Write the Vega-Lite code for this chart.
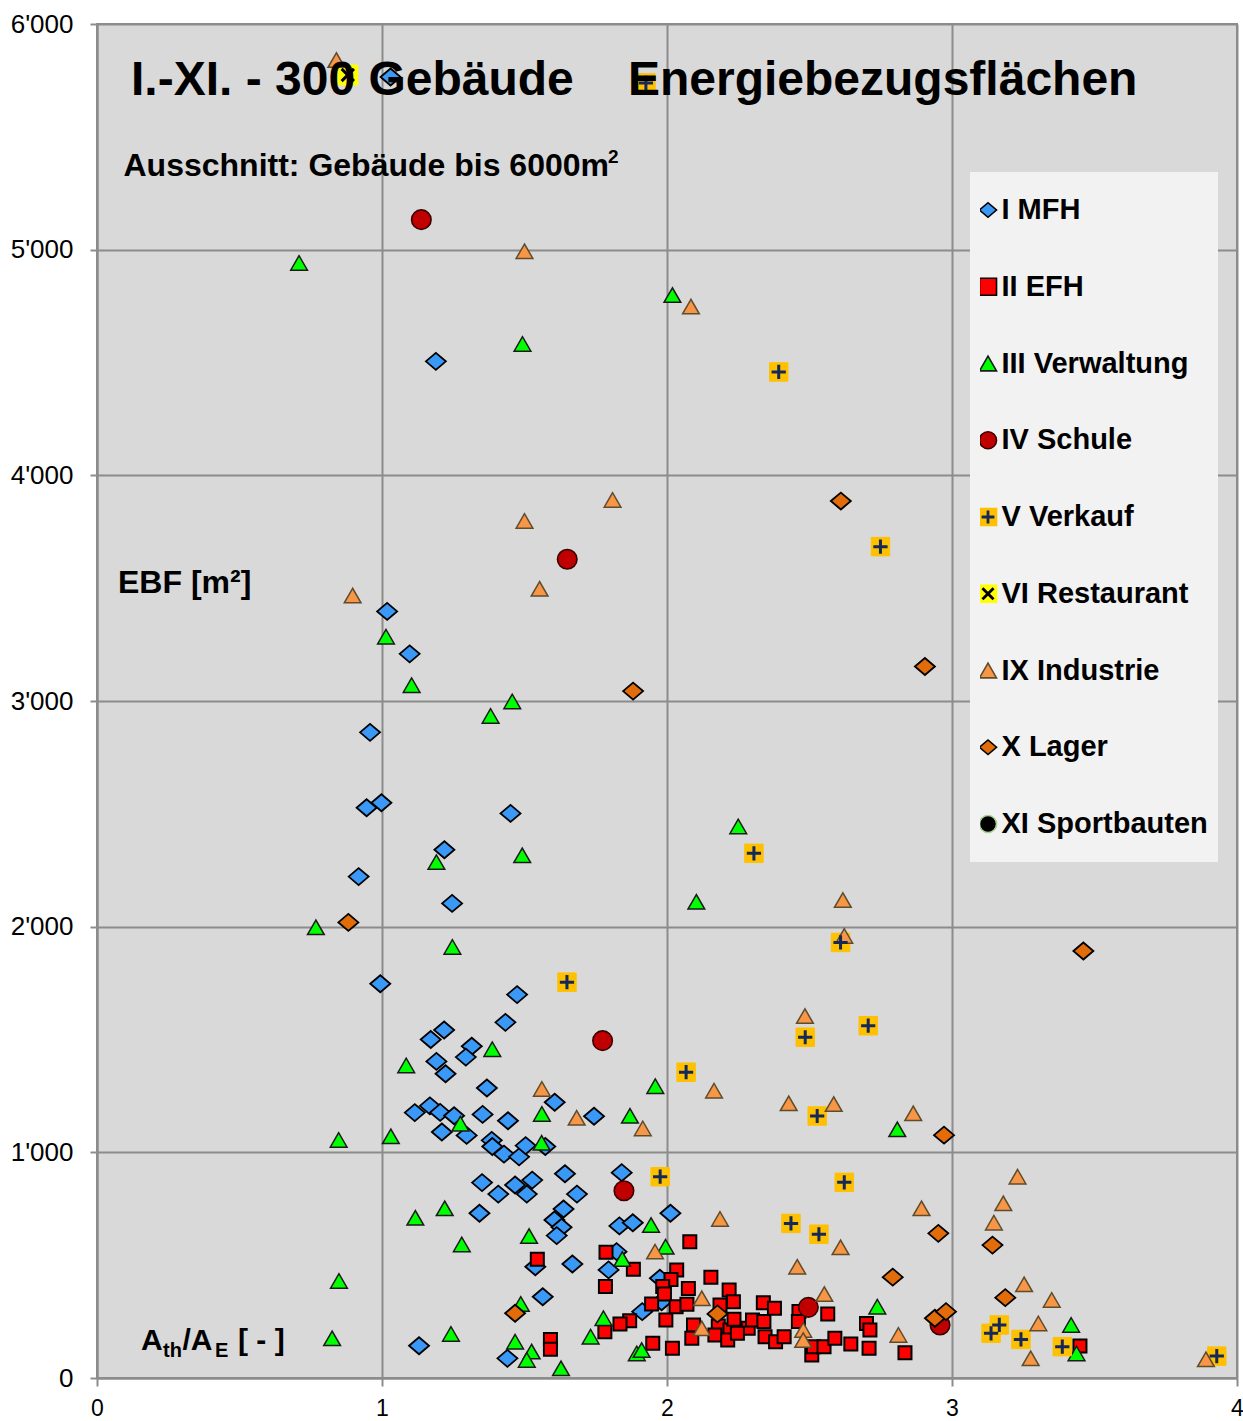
{
  "$schema": "https://vega.github.io/schema/vega-lite/v6.json",
  "width": 1140,
  "height": 1354,
  "autosize": {"type": "none"},
  "padding": {"left": 97, "top": 24, "right": 6, "bottom": 43},
  "background": "#ffffff",
  "config": {
    "view": {"fill": "#d9d9d9", "stroke": "#8c8c8c", "strokeWidth": 2},
    "font": "Liberation Sans",
    "axis": {
      "grid": true, "gridColor": "#8c8c8c", "gridWidth": 2, "gridOpacity": 1,
      "domainColor": "#8c8c8c", "domainWidth": 2,
      "tickColor": "#8c8c8c", "tickWidth": 2,
      "labelFont": "Liberation Sans", "labelFontSize": 26, "labelColor": "#000000",
      "title": null
    }
  },
  "datasets": {
    "pts": [
      {"typ":"I MFH","x":1.03,"y":5765},{"typ":"I MFH","x":1.189,"y":4505},{"typ":"I MFH","x":1.018,"y":3397},{"typ":"I MFH","x":1.097,"y":3209},{"typ":"I MFH","x":0.958,"y":2861},{"typ":"I MFH","x":0.946,"y":2527},{"typ":"I MFH","x":0.998,"y":2549},{"typ":"I MFH","x":1.451,"y":2502},{"typ":"I MFH","x":1.219,"y":2341},{"typ":"I MFH","x":0.918,"y":2222},{"typ":"I MFH","x":1.246,"y":2103},{"typ":"I MFH","x":0.994,"y":1747},{"typ":"I MFH","x":1.474,"y":1699},{"typ":"I MFH","x":1.433,"y":1576},{"typ":"I MFH","x":1.218,"y":1542},{"typ":"I MFH","x":1.171,"y":1500},{"typ":"I MFH","x":1.315,"y":1470},{"typ":"I MFH","x":1.294,"y":1422},{"typ":"I MFH","x":1.191,"y":1403},{"typ":"I MFH","x":1.223,"y":1348},{"typ":"I MFH","x":1.368,"y":1285},{"typ":"I MFH","x":1.606,"y":1222},{"typ":"I MFH","x":1.744,"y":1160},{"typ":"I MFH","x":1.115,"y":1176},{"typ":"I MFH","x":1.168,"y":1206},{"typ":"I MFH","x":1.204,"y":1177},{"typ":"I MFH","x":1.253,"y":1162},{"typ":"I MFH","x":1.21,"y":1090},{"typ":"I MFH","x":1.297,"y":1075},{"typ":"I MFH","x":1.353,"y":1168},{"typ":"I MFH","x":1.442,"y":1140},{"typ":"I MFH","x":1.385,"y":1053},{"typ":"I MFH","x":1.387,"y":1026},{"typ":"I MFH","x":1.428,"y":992},{"typ":"I MFH","x":1.481,"y":980},{"typ":"I MFH","x":1.504,"y":1030},{"typ":"I MFH","x":1.573,"y":1026},{"typ":"I MFH","x":1.642,"y":905},{"typ":"I MFH","x":1.351,"y":866},{"typ":"I MFH","x":1.408,"y":815},{"typ":"I MFH","x":1.467,"y":855},{"typ":"I MFH","x":1.527,"y":877},{"typ":"I MFH","x":1.508,"y":815},{"typ":"I MFH","x":1.684,"y":815},{"typ":"I MFH","x":1.841,"y":910},{"typ":"I MFH","x":1.342,"y":730},{"typ":"I MFH","x":1.637,"y":749},{"typ":"I MFH","x":1.605,"y":700},{"typ":"I MFH","x":1.63,"y":668},{"typ":"I MFH","x":1.613,"y":631},{"typ":"I MFH","x":1.833,"y":674},{"typ":"I MFH","x":1.88,"y":688},{"typ":"I MFH","x":2.012,"y":730},{"typ":"I MFH","x":1.823,"y":560},{"typ":"I MFH","x":1.538,"y":493},{"typ":"I MFH","x":1.668,"y":505},{"typ":"I MFH","x":1.795,"y":479},{"typ":"I MFH","x":1.975,"y":442},{"typ":"I MFH","x":1.564,"y":360},{"typ":"I MFH","x":1.913,"y":294},{"typ":"I MFH","x":1.981,"y":338},{"typ":"I MFH","x":1.13,"y":143},{"typ":"I MFH","x":1.44,"y":87},
      {"typ":"II EFH","x":2.08,"y":604},{"typ":"II EFH","x":1.786,"y":557},{"typ":"II EFH","x":1.545,"y":526},{"typ":"II EFH","x":1.882,"y":482},{"typ":"II EFH","x":1.784,"y":405},{"typ":"II EFH","x":2.034,"y":479},{"typ":"II EFH","x":2.014,"y":437},{"typ":"II EFH","x":2.075,"y":397},{"typ":"II EFH","x":2.154,"y":446},{"typ":"II EFH","x":2.218,"y":390},{"typ":"II EFH","x":1.985,"y":405},{"typ":"II EFH","x":1.991,"y":372},{"typ":"II EFH","x":2.233,"y":338},{"typ":"II EFH","x":2.338,"y":334},{"typ":"II EFH","x":2.377,"y":309},{"typ":"II EFH","x":2.564,"y":284},{"typ":"II EFH","x":2.463,"y":295},{"typ":"II EFH","x":2.461,"y":250},{"typ":"II EFH","x":1.946,"y":328},{"typ":"II EFH","x":1.996,"y":257},{"typ":"II EFH","x":1.869,"y":254},{"typ":"II EFH","x":1.835,"y":239},{"typ":"II EFH","x":1.782,"y":205},{"typ":"II EFH","x":1.591,"y":171},{"typ":"II EFH","x":1.591,"y":127},{"typ":"II EFH","x":1.95,"y":154},{"typ":"II EFH","x":2.019,"y":132},{"typ":"II EFH","x":2.093,"y":235},{"typ":"II EFH","x":2.186,"y":323},{"typ":"II EFH","x":2.18,"y":230},{"typ":"II EFH","x":2.221,"y":213},{"typ":"II EFH","x":2.235,"y":260},{"typ":"II EFH","x":2.087,"y":176},{"typ":"II EFH","x":2.168,"y":191},{"typ":"II EFH","x":2.213,"y":168},{"typ":"II EFH","x":2.285,"y":220},{"typ":"II EFH","x":2.3,"y":257},{"typ":"II EFH","x":2.34,"y":250},{"typ":"II EFH","x":2.344,"y":183},{"typ":"II EFH","x":2.381,"y":161},{"typ":"II EFH","x":2.411,"y":183},{"typ":"II EFH","x":2.508,"y":102},{"typ":"II EFH","x":2.514,"y":139},{"typ":"II EFH","x":2.551,"y":139},{"typ":"II EFH","x":2.589,"y":176},{"typ":"II EFH","x":2.645,"y":151},{"typ":"II EFH","x":2.7,"y":242},{"typ":"II EFH","x":2.712,"y":213},{"typ":"II EFH","x":2.709,"y":132},{"typ":"II EFH","x":2.835,"y":112},{"typ":"II EFH","x":3.449,"y":142},{"typ":"II EFH","x":2.032,"y":316},{"typ":"II EFH","x":2.07,"y":327},{"typ":"II EFH","x":2.247,"y":198},
      {"typ":"III Verwaltung","x":0.709,"y":4941},{"typ":"III Verwaltung","x":2.019,"y":4799},{"typ":"III Verwaltung","x":1.493,"y":4582},{"typ":"III Verwaltung","x":1.014,"y":3285},{"typ":"III Verwaltung","x":1.104,"y":3070},{"typ":"III Verwaltung","x":1.457,"y":2998},{"typ":"III Verwaltung","x":1.381,"y":2934},{"typ":"III Verwaltung","x":1.191,"y":2286},{"typ":"III Verwaltung","x":1.492,"y":2316},{"typ":"III Verwaltung","x":2.25,"y":2444},{"typ":"III Verwaltung","x":2.103,"y":2110},{"typ":"III Verwaltung","x":0.768,"y":1997},{"typ":"III Verwaltung","x":1.247,"y":1910},{"typ":"III Verwaltung","x":1.387,"y":1457},{"typ":"III Verwaltung","x":1.085,"y":1385},{"typ":"III Verwaltung","x":1.959,"y":1293},{"typ":"III Verwaltung","x":1.561,"y":1170},{"typ":"III Verwaltung","x":1.87,"y":1162},{"typ":"III Verwaltung","x":1.275,"y":1127},{"typ":"III Verwaltung","x":0.848,"y":1055},{"typ":"III Verwaltung","x":1.031,"y":1071},{"typ":"III Verwaltung","x":1.56,"y":1042},{"typ":"III Verwaltung","x":2.808,"y":1102},{"typ":"III Verwaltung","x":1.22,"y":752},{"typ":"III Verwaltung","x":1.117,"y":710},{"typ":"III Verwaltung","x":1.944,"y":678},{"typ":"III Verwaltung","x":1.516,"y":629},{"typ":"III Verwaltung","x":1.28,"y":592},{"typ":"III Verwaltung","x":1.995,"y":582},{"typ":"III Verwaltung","x":1.843,"y":527},{"typ":"III Verwaltung","x":0.849,"y":430},{"typ":"III Verwaltung","x":2.738,"y":316},{"typ":"III Verwaltung","x":1.487,"y":328},{"typ":"III Verwaltung","x":1.777,"y":265},{"typ":"III Verwaltung","x":1.732,"y":183},{"typ":"III Verwaltung","x":1.242,"y":195},{"typ":"III Verwaltung","x":1.467,"y":161},{"typ":"III Verwaltung","x":1.525,"y":117},{"typ":"III Verwaltung","x":1.508,"y":80},{"typ":"III Verwaltung","x":1.628,"y":43},{"typ":"III Verwaltung","x":1.894,"y":109},{"typ":"III Verwaltung","x":1.911,"y":124},{"typ":"III Verwaltung","x":3.418,"y":235},{"typ":"III Verwaltung","x":3.437,"y":109},{"typ":"III Verwaltung","x":0.825,"y":176},
      {"typ":"IV Schule","x":1.138,"y":5133},{"typ":"IV Schule","x":1.65,"y":3628},{"typ":"IV Schule","x":1.774,"y":1495},{"typ":"IV Schule","x":1.849,"y":830},{"typ":"IV Schule","x":2.496,"y":313},{"typ":"IV Schule","x":2.958,"y":235},
      {"typ":"V Verkauf","x":1.926,"y":5739},{"typ":"V Verkauf","x":2.392,"y":4458},{"typ":"V Verkauf","x":2.749,"y":3684},{"typ":"V Verkauf","x":2.305,"y":2325},{"typ":"V Verkauf","x":2.609,"y":1930},{"typ":"V Verkauf","x":1.649,"y":1754},{"typ":"V Verkauf","x":2.485,"y":1510},{"typ":"V Verkauf","x":2.706,"y":1561},{"typ":"V Verkauf","x":2.067,"y":1355},{"typ":"V Verkauf","x":2.527,"y":1161},{"typ":"V Verkauf","x":1.976,"y":892},{"typ":"V Verkauf","x":2.622,"y":867},{"typ":"V Verkauf","x":2.435,"y":685},{"typ":"V Verkauf","x":2.533,"y":637},{"typ":"V Verkauf","x":3.137,"y":198},{"typ":"V Verkauf","x":3.166,"y":235},{"typ":"V Verkauf","x":3.242,"y":171},{"typ":"V Verkauf","x":3.387,"y":139},{"typ":"V Verkauf","x":3.929,"y":97},
      {"typ":"VI Restaurant","x":0.88,"y":5774},
      {"typ":"IX Industrie","x":0.84,"y":5840},{"typ":"IX Industrie","x":1.5,"y":4993},{"typ":"IX Industrie","x":2.084,"y":4748},{"typ":"IX Industrie","x":1.809,"y":3891},{"typ":"IX Industrie","x":1.5,"y":3798},{"typ":"IX Industrie","x":1.553,"y":3497},{"typ":"IX Industrie","x":0.897,"y":3467},{"typ":"IX Industrie","x":2.617,"y":2118},{"typ":"IX Industrie","x":2.622,"y":1959},{"typ":"IX Industrie","x":2.484,"y":1604},{"typ":"IX Industrie","x":1.561,"y":1281},{"typ":"IX Industrie","x":1.683,"y":1153},{"typ":"IX Industrie","x":1.915,"y":1106},{"typ":"IX Industrie","x":2.165,"y":1273},{"typ":"IX Industrie","x":2.427,"y":1217},{"typ":"IX Industrie","x":2.585,"y":1214},{"typ":"IX Industrie","x":2.864,"y":1173},{"typ":"IX Industrie","x":3.23,"y":892},{"typ":"IX Industrie","x":2.893,"y":752},{"typ":"IX Industrie","x":2.186,"y":705},{"typ":"IX Industrie","x":3.18,"y":774},{"typ":"IX Industrie","x":3.147,"y":688},{"typ":"IX Industrie","x":2.609,"y":579},{"typ":"IX Industrie","x":1.958,"y":560},{"typ":"IX Industrie","x":2.457,"y":493},{"typ":"IX Industrie","x":3.253,"y":415},{"typ":"IX Industrie","x":2.552,"y":372},{"typ":"IX Industrie","x":3.35,"y":346},{"typ":"IX Industrie","x":2.122,"y":353},{"typ":"IX Industrie","x":3.303,"y":242},{"typ":"IX Industrie","x":2.122,"y":220},{"typ":"IX Industrie","x":2.478,"y":213},{"typ":"IX Industrie","x":2.478,"y":168},{"typ":"IX Industrie","x":2.812,"y":191},{"typ":"IX Industrie","x":3.276,"y":87},{"typ":"IX Industrie","x":3.891,"y":83},
      {"typ":"X Lager","x":2.61,"y":3886},{"typ":"X Lager","x":2.905,"y":3153},{"typ":"X Lager","x":1.881,"y":3044},{"typ":"X Lager","x":0.882,"y":2019},{"typ":"X Lager","x":3.461,"y":1892},{"typ":"X Lager","x":2.972,"y":1076},{"typ":"X Lager","x":2.952,"y":641},{"typ":"X Lager","x":3.142,"y":589},{"typ":"X Lager","x":2.792,"y":447},{"typ":"X Lager","x":3.187,"y":356},{"typ":"X Lager","x":1.467,"y":287},{"typ":"X Lager","x":2.177,"y":284},{"typ":"X Lager","x":2.94,"y":265},{"typ":"X Lager","x":2.979,"y":294}
    ]
  },
  "resolve": {"scale": {"shape": "independent", "stroke": "independent", "fill": "independent"}},
  "layer": [
    {
      "data": {"name": "pts"},
      "encoding": {
        "x": {"field": "x", "type": "quantitative", "scale": {"domain": [0, 4], "nice": false, "zero": true},
              "axis": {"values": [0, 1, 2, 3, 4], "format": "d", "tickSize": 8, "labelPadding": 11, "labelFontSize": 23, "labelFlush": false, "labelBound": false, "labelOverlap": false}},
        "y": {"field": "y", "type": "quantitative", "scale": {"domain": [0, 6000], "nice": false, "zero": true},
              "axis": {"values": [0, 1000, 2000, 3000, 4000, 5000, 6000], "tickSize": 7, "labelPadding": 17, "labelFlush": false, "labelOverlap": false,
                       "labelExpr": "replace(format(datum.value, ','), ',', \"'\")"}},
        "shape": {"field": "typ", "type": "nominal",
          "scale": {"domain": ["I MFH","II EFH","III Verwaltung","IV Schule","V Verkauf","VI Restaurant","IX Industrie","X Lager","XI Sportbauten"],
                    "range": ["M-1,0L0,-0.85L1,0L0,0.85Z","square","triangle-up","circle","square","square","triangle-up","M-1,0L0,-0.85L1,0L0,0.85Z","circle"]},
          "legend": {"title": null, "orient": "none", "legendX": 873, "legendY": 148, "fillColor": "#f2f2f2", "padding": 10, "clipHeight": 56, "rowPadding": 20.75, "columns": 1,
                     "symbolOffset": -6.5, "labelOffset": -1, "symbolSize": 290, "symbolStrokeWidth": 1.6, "symbolOpacity": 1,
                     "labelFont": "Liberation Sans", "labelFontSize": 29, "labelFontWeight": "bold", "labelColor": "#000000", "labelLimit": 400, "labelBaseline": "middle"}},
        "fill": {"field": "typ", "type": "nominal",
          "scale": {"domain": ["I MFH","II EFH","III Verwaltung","IV Schule","V Verkauf","VI Restaurant","IX Industrie","X Lager","XI Sportbauten"],
                    "range": ["#3a98f7","#ff0000","#00ff00","#c00000","#ffc000","#ffff00","#f79646","#e36c0a","#000000"]},
          "legend": {"title": null, "orient": "none", "legendX": 873, "legendY": 148, "fillColor": "#f2f2f2", "padding": 10, "clipHeight": 56, "rowPadding": 20.75, "columns": 1,
                     "symbolOffset": -6.5, "labelOffset": -1, "symbolSize": 290, "symbolStrokeWidth": 1.6, "symbolOpacity": 1,
                     "labelFont": "Liberation Sans", "labelFontSize": 29, "labelFontWeight": "bold", "labelColor": "#000000", "labelLimit": 400, "labelBaseline": "middle"}},
        "stroke": {"field": "typ", "type": "nominal",
          "scale": {"domain": ["I MFH","II EFH","III Verwaltung","IV Schule","V Verkauf","VI Restaurant","IX Industrie","X Lager","XI Sportbauten"],
                    "range": ["#000000","#000000","#1a1a1a","#3a0000","#ffc000","#ffff00","#5e4c2c","#000000","#a9d18e"]},
          "legend": {"title": null, "orient": "none", "legendX": 873, "legendY": 148, "fillColor": "#f2f2f2", "padding": 10, "clipHeight": 56, "rowPadding": 20.75, "columns": 1,
                     "symbolOffset": -6.5, "labelOffset": -1, "symbolSize": 290, "symbolStrokeWidth": 1.6, "symbolOpacity": 1,
                     "labelFont": "Liberation Sans", "labelFontSize": 29, "labelFontWeight": "bold", "labelColor": "#000000", "labelLimit": 400, "labelBaseline": "middle"}}
      },
      "layer": [
        {"transform": [{"filter": {"field": "typ", "equal": "I MFH"}}], "mark": {"type": "point", "filled": true, "size": 400, "strokeWidth": 1.8, "opacity": 1}},
        {"transform": [{"filter": {"field": "typ", "equal": "II EFH"}}], "mark": {"type": "point", "filled": true, "size": 169, "strokeWidth": 2, "opacity": 1}},
        {"transform": [{"filter": {"field": "typ", "equal": "III Verwaltung"}}], "mark": {"type": "point", "filled": true, "size": 280, "strokeWidth": 1.5, "opacity": 1}},
        {"transform": [{"filter": {"field": "typ", "equal": "IV Schule"}}], "mark": {"type": "point", "filled": true, "size": 380, "strokeWidth": 1.6, "opacity": 1}},
        {"transform": [{"filter": {"field": "typ", "equal": "V Verkauf"}}], "mark": {"type": "point", "filled": true, "size": 340, "strokeWidth": 1, "opacity": 1}},
        {"transform": [{"filter": {"field": "typ", "equal": "VI Restaurant"}}], "mark": {"type": "point", "filled": true, "size": 400, "strokeWidth": 1, "opacity": 1}},
        {"transform": [{"filter": {"field": "typ", "equal": "IX Industrie"}}], "mark": {"type": "point", "filled": true, "size": 280, "strokeWidth": 1.5, "opacity": 1}},
        {"transform": [{"filter": {"field": "typ", "equal": "X Lager"}}], "mark": {"type": "point", "filled": true, "size": 400, "strokeWidth": 1.8, "opacity": 1}}
      ]
    },
    {
      "data": {"name": "pts"},
      "transform": [{"filter": {"field": "typ", "oneOf": ["V Verkauf", "VI Restaurant"]}}],
      "mark": {"type": "point", "filled": false, "size": 360, "strokeWidth": 3, "opacity": 1},
      "encoding": {
        "x": {"field": "x", "type": "quantitative"},
        "y": {"field": "y", "type": "quantitative"},
        "shape": {"field": "typ", "type": "nominal",
          "scale": {"domain": ["I MFH","II EFH","III Verwaltung","IV Schule","V Verkauf","VI Restaurant","IX Industrie","X Lager","XI Sportbauten"],
                    "range": ["M0,0","M0,0","M0,0","M0,0","M-0.75,0H0.75M0,-0.75V0.75","M-0.65,-0.65L0.65,0.65M-0.65,0.65L0.65,-0.65","M0,0","M0,0","M0,0"]},
          "legend": {"title": null, "orient": "none", "legendX": 873, "legendY": 148, "padding": 10, "clipHeight": 56, "rowPadding": 20.75, "columns": 1, "zindex": 1,
                     "symbolOffset": -6.5, "labelOffset": -1, "symbolSize": 290, "symbolStrokeWidth": 2.8, "symbolOpacity": 1,
                     "labelFont": "Liberation Sans", "labelFontSize": 29, "labelFontWeight": "bold", "labelColor": "transparent", "labelLimit": 400, "labelBaseline": "middle"}},
        "stroke": {"field": "typ", "type": "nominal",
          "scale": {"domain": ["I MFH","II EFH","III Verwaltung","IV Schule","V Verkauf","VI Restaurant","IX Industrie","X Lager","XI Sportbauten"],
                    "range": ["transparent","transparent","transparent","transparent","#14285a","#000000","transparent","transparent","transparent"]},
          "legend": {"title": null, "orient": "none", "legendX": 873, "legendY": 148, "padding": 10, "clipHeight": 56, "rowPadding": 20.75, "columns": 1, "zindex": 1,
                     "symbolOffset": -6.5, "labelOffset": -1, "symbolSize": 290, "symbolStrokeWidth": 2.8, "symbolOpacity": 1,
                     "labelFont": "Liberation Sans", "labelFontSize": 29, "labelFontWeight": "bold", "labelColor": "transparent", "labelLimit": 400, "labelBaseline": "middle"}}
      }
    },
    {
      "data": {"values": [{}]},
      "mark": {"type": "text", "text": "I.-XI. - 300 Gebäude", "font": "Liberation Sans", "fontWeight": "bold", "fontSize": 48, "align": "left", "baseline": "alphabetic", "color": "#000000"},
      "encoding": {"x": {"datum": 0.1193, "type": "quantitative"}, "y": {"datum": 5685, "type": "quantitative"}}
    },
    {
      "data": {"values": [{}]},
      "mark": {"type": "text", "text": "Energiebezugsflächen", "font": "Liberation Sans", "fontWeight": "bold", "fontSize": 48, "align": "left", "baseline": "alphabetic", "color": "#000000"},
      "encoding": {"x": {"datum": 1.863, "type": "quantitative"}, "y": {"datum": 5685, "type": "quantitative"}}
    },
    {
      "data": {"values": [{}]},
      "mark": {"type": "text", "text": "Ausschnitt: Gebäude bis 6000m", "font": "Liberation Sans", "fontWeight": "bold", "fontSize": 32, "align": "left", "baseline": "alphabetic", "color": "#000000"},
      "encoding": {"x": {"datum": 0.093, "type": "quantitative"}, "y": {"datum": 5326, "type": "quantitative"}}
    },
    {
      "data": {"values": [{}]},
      "mark": {"type": "text", "text": "2", "font": "Liberation Sans", "fontWeight": "bold", "fontSize": 19, "align": "left", "baseline": "alphabetic", "color": "#000000"},
      "encoding": {"x": {"datum": 1.793, "type": "quantitative"}, "y": {"datum": 5384, "type": "quantitative"}}
    },
    {
      "data": {"values": [{}]},
      "mark": {"type": "text", "text": "EBF [m²]", "font": "Liberation Sans", "fontWeight": "bold", "fontSize": 32, "align": "left", "baseline": "alphabetic", "color": "#000000"},
      "encoding": {"x": {"datum": 0.0737, "type": "quantitative"}, "y": {"datum": 3479, "type": "quantitative"}}
    },
    {
      "data": {"values": [{}]},
      "mark": {"type": "text", "text": "A", "font": "Liberation Sans", "fontWeight": "bold", "fontSize": 30, "align": "left", "baseline": "alphabetic", "color": "#000000"},
      "encoding": {"x": {"datum": 0.1544, "type": "quantitative"}, "y": {"datum": 124, "type": "quantitative"}}
    },
    {
      "data": {"values": [{}]},
      "mark": {"type": "text", "text": "th", "font": "Liberation Sans", "fontWeight": "bold", "fontSize": 20, "align": "left", "baseline": "alphabetic", "color": "#000000"},
      "encoding": {"x": {"datum": 0.2316, "type": "quantitative"}, "y": {"datum": 93, "type": "quantitative"}}
    },
    {
      "data": {"values": [{}]},
      "mark": {"type": "text", "text": "/A", "font": "Liberation Sans", "fontWeight": "bold", "fontSize": 30, "align": "left", "baseline": "alphabetic", "color": "#000000"},
      "encoding": {"x": {"datum": 0.3, "type": "quantitative"}, "y": {"datum": 124, "type": "quantitative"}}
    },
    {
      "data": {"values": [{}]},
      "mark": {"type": "text", "text": "E", "font": "Liberation Sans", "fontWeight": "bold", "fontSize": 20, "align": "left", "baseline": "alphabetic", "color": "#000000"},
      "encoding": {"x": {"datum": 0.414, "type": "quantitative"}, "y": {"datum": 93, "type": "quantitative"}}
    },
    {
      "data": {"values": [{}]},
      "mark": {"type": "text", "text": "[ - ]", "font": "Liberation Sans", "fontWeight": "bold", "fontSize": 30, "align": "left", "baseline": "alphabetic", "color": "#000000"},
      "encoding": {"x": {"datum": 0.4947, "type": "quantitative"}, "y": {"datum": 124, "type": "quantitative"}}
    }
  ]
}
